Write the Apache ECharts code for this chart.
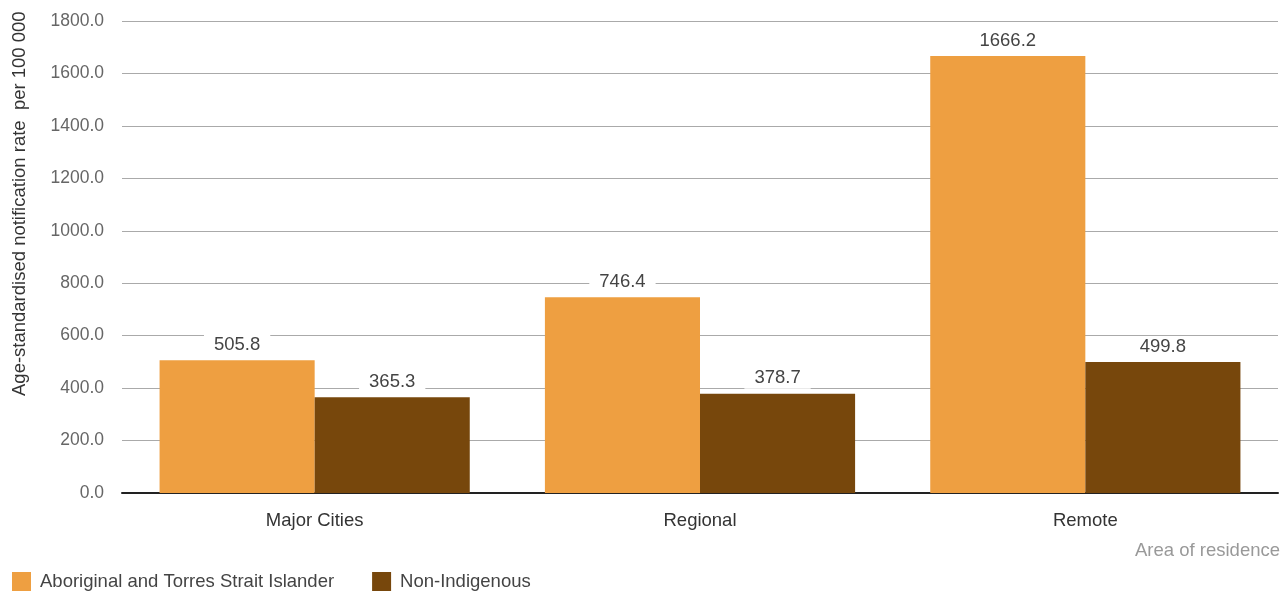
<!DOCTYPE html>
<html>
<head>
<meta charset="utf-8">
<script src="https://cdn.jsdelivr.net/npm/echarts@6/dist/echarts.min.js"></script>
<style>
  html, body { margin: 0; padding: 0; background: #fff; }
  #chart { width: 1284px; height: 593px; }
</style>
</head>
<body>
<div id="chart"></div>
<script>
// data
const categories = ['Major Cities', 'Regional', 'Remote']
const indigenous = [505.8, 746.4, 1666.2]
const nonIndigenous = [365.3, 378.7, 499.8]
const seriesNames = ['Aboriginal and Torres Strait Islander', 'Non-Indigenous']
const colors = ['#EE9F41', '#77470C']

const font = 'Helvetica, "Liberation Sans", Arial, sans-serif'

const chart = echarts.init(document.getElementById('chart'))

// value labels sit on a white box so the gridlines break around them
const valueLabel = {
  show: true,
  position: 'top',
  distance: 5,
  formatter: p => p.value.toFixed(1),
  color: '#444',
  fontSize: 18.5,
  fontFamily: font,
  backgroundColor: '#fff',
  padding: [1, 10, 1, 10]
}

chart.setOption({
  animation: false,
  color: colors,
  grid: { left: 122, right: 6, top: 21, bottom: 100 },
  legend: {
    left: 12,
    top: 572,
    padding: 0,
    itemWidth: 19,
    itemHeight: 19,
    itemGap: 38,
    icon: 'rect',
    textStyle: { color: '#444', fontSize: 18.5, fontFamily: font, padding: [0, 0, 0, 4] },
    data: seriesNames
  },
  graphic: [
    {
      type: 'text',
      x: 20,
      y: 396,
      rotation: Math.PI / 2,
      style: {
        text: 'Age-standardised notification rate  per 100 000',
        fill: '#333',
        font: '18.5px ' + font,
        verticalAlign: 'middle'
      }
    },
    {
      type: 'text',
      right: 4,
      top: 541,
      style: {
        text: 'Area of residence',
        fill: '#999',
        font: '18.5px ' + font
      }
    }
  ],
  xAxis: {
    type: 'category',
    data: categories,
    axisLine: { lineStyle: { color: '#222', width: 2 } },
    axisTick: { show: false },
    axisLabel: { color: '#333', fontSize: 18.5, fontFamily: font, margin: 18 }
  },
  yAxis: {
    type: 'value',
    min: 0,
    max: 1800,
    interval: 200,
    axisLine: { show: false },
    axisTick: { show: false },
    axisLabel: {
      color: '#666',
      fontSize: 17.5,
      fontFamily: font,
      margin: 18,
      formatter: v => v.toFixed(1)
    },
    splitLine: { lineStyle: { color: '#aaa', width: 1 } }
  },
  series: [
    {
      name: seriesNames[0],
      type: 'bar',
      data: indigenous,
      barGap: '0%',
      barCategoryGap: '19.5%',
      label: valueLabel
    },
    {
      name: seriesNames[1],
      type: 'bar',
      data: nonIndigenous,
      label: valueLabel
    }
  ]
})
</script>
</body>
</html>
